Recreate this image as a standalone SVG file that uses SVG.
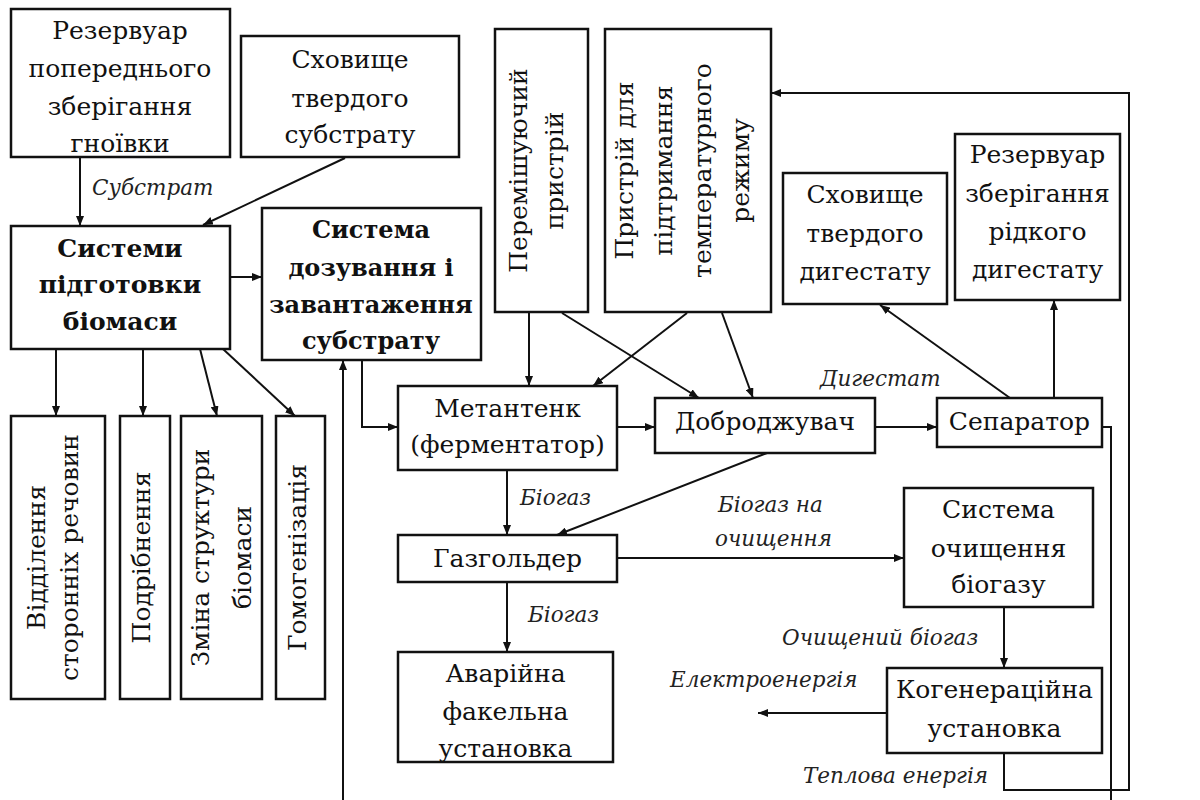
<svg xmlns="http://www.w3.org/2000/svg" width="1200" height="800" viewBox="0 0 1200 800">
<defs>
<marker id="ah" viewBox="0 0 10 8" refX="10" refY="4" markerWidth="10" markerHeight="8" markerUnits="userSpaceOnUse" orient="auto">
<path d="M0,0 L10,4 L0,8 Z" fill="#111"/>
</marker>
<style>
rect{fill:#fff;stroke:#111;stroke-width:2.5}
.t{font-size:25px;fill:#111;text-anchor:middle}
.b{font-size:25px;font-weight:bold;fill:#111;text-anchor:middle}
.b2{font-size:24px;font-weight:bold;fill:#111;text-anchor:middle}
.l{font-size:21.5px;font-style:italic;fill:#222}
.c line,.c path{stroke:#111;stroke-width:2;fill:none}
.a{marker-end:url(#ah)}
</style>
</defs>
<rect x="0" y="0" width="1200" height="800" style="fill:#fff;stroke:none"/>
<g font-family="DejaVu Serif, serif">
<g id="n1"><rect x="11" y="9" width="219" height="148"/>
<text class="t" x="120" y="39">Резервуар</text><text class="t" x="120" y="77">попереднього</text><text class="t" x="120" y="115">зберігання</text><text class="t" x="120" y="152">гноївки</text></g>

<g id="n2"><rect x="241" y="36" width="218" height="121"/>
<text class="t" x="350" y="68">Сховище</text><text class="t" x="350" y="107">твердого</text><text class="t" x="350" y="143">субстрату</text></g>

<g id="n3"><rect x="11" y="226" width="219" height="123"/>
<text class="b" x="120" y="257">Системи</text><text class="b" x="120" y="293">підготовки</text><text class="b" x="120" y="330">біомаси</text></g>

<g id="n4"><rect x="262" y="208" width="219" height="152"/>
<text class="b2" x="371" y="238">Система</text><text class="b2" x="371" y="276">дозування і</text><text class="b2" x="371" y="313">завантаження</text><text class="b2" x="371" y="349">субстрату</text></g>

<g id="n5"><rect x="495" y="29" width="93" height="283"/>
<g transform="translate(541.5,170.5) rotate(-90)"><text class="t" x="0" y="-15">Перемішуючий</text><text class="t" x="0" y="21">пристрій</text></g></g>

<g id="n6"><rect x="605" y="29" width="166" height="283"/>
<g transform="translate(688,170.5) rotate(-90)"><text class="t" x="0" y="-55">Пристрій для</text><text class="t" x="0" y="-16">підтримання</text><text class="t" x="0" y="23">температурного</text><text class="t" x="0" y="61">режиму</text></g></g>

<g id="n7"><rect x="783" y="173" width="164" height="131"/>
<text class="t" x="865" y="203">Сховище</text><text class="t" x="865" y="242">твердого</text><text class="t" x="865" y="280">дигестату</text></g>

<g id="n8"><rect x="955" y="134" width="165" height="166"/>
<text class="t" x="1037.5" y="163">Резервуар</text><text class="t" x="1037.5" y="202">зберігання</text><text class="t" x="1037.5" y="240">рідкого</text><text class="t" x="1037.5" y="278">дигестату</text></g>

<g id="n9"><rect x="398" y="386" width="219" height="84"/>
<text class="t" x="507.5" y="417">Метантенк</text><text class="t" x="507.5" y="453">(ферментатор)</text></g>

<g id="n10"><rect x="655" y="398" width="220" height="55"/>
<text class="t" x="765" y="430">Доброджувач</text></g>

<g id="n11"><rect x="937" y="398" width="165" height="49"/>
<text class="t" x="1019.5" y="430">Сепаратор</text></g>

<g id="n12"><rect x="398" y="535" width="219" height="47"/>
<text class="t" x="507.5" y="567">Газгольдер</text></g>

<g id="n13"><rect x="398" y="652" width="215" height="110"/>
<text class="t" x="505.5" y="682">Аварійна</text><text class="t" x="505.5" y="720">факельна</text><text class="t" x="505.5" y="757">установка</text></g>

<g id="n14"><rect x="904" y="488" width="189" height="119"/>
<text class="t" x="998.5" y="518">Система</text><text class="t" x="998.5" y="557">очищення</text><text class="t" x="998.5" y="593">біогазу</text></g>

<g id="n15"><rect x="887" y="668" width="215" height="85"/>
<text class="t" x="994.5" y="698">Когенераційна</text><text class="t" x="994.5" y="737">установка</text></g>

<g id="n16"><rect x="11" y="416" width="94" height="283"/>
<g transform="translate(58,557.5) rotate(-90)"><text class="t" x="0" y="-13">Відділення</text><text class="t" x="0" y="20">сторонніх речовин</text></g></g>

<g id="n17"><rect x="120" y="416" width="50" height="283"/>
<g transform="translate(145,557.5) rotate(-90)"><text class="t" x="0" y="5">Подрібнення</text></g></g>

<g id="n18"><rect x="181" y="416" width="81" height="283"/>
<g transform="translate(221.5,557.5) rotate(-90)"><text class="t" x="0" y="-13">Зміна структури</text><text class="t" x="0" y="29">біомаси</text></g></g>

<g id="n19"><rect x="276" y="416" width="49" height="283"/>
<g transform="translate(300.5,557.5) rotate(-90)"><text class="t" x="0" y="5">Гомогенізація</text></g></g>

<g id="connectors" class="c">
<line class="a" x1="80" y1="157" x2="80" y2="226"/>
<line class="a" x1="345" y1="158" x2="203" y2="225"/>
<line class="a" x1="230" y1="277" x2="262" y2="277"/>
<line class="a" x1="56" y1="349" x2="56" y2="416"/>
<line class="a" x1="143" y1="349" x2="143" y2="416"/>
<line class="a" x1="200" y1="349" x2="217" y2="416"/>
<line class="a" x1="223" y1="349" x2="295" y2="416"/>
<path class="a" d="M362,360 V427 H398"/>
<line class="a" x1="343" y1="800" x2="343" y2="360"/>
<line class="a" x1="529" y1="312" x2="529" y2="386"/>
<line class="a" x1="562" y1="313" x2="699" y2="398"/>
<line class="a" x1="687" y1="313" x2="593" y2="386"/>
<line class="a" x1="722" y1="313" x2="753" y2="398"/>
<line class="a" x1="617" y1="427" x2="655" y2="427"/>
<line class="a" x1="875" y1="427" x2="937" y2="427"/>
<line class="a" x1="1010" y1="398" x2="880" y2="305"/>
<line class="a" x1="1054" y1="398" x2="1054" y2="300"/>
<path d="M1102,427 H1111 V800"/>
<line class="a" x1="507" y1="470" x2="507" y2="535"/>
<line class="a" x1="767" y1="453" x2="557" y2="535"/>
<line class="a" x1="507" y1="582" x2="507" y2="652"/>
<line class="a" x1="617" y1="558" x2="904" y2="558"/>
<line class="a" x1="1004" y1="607" x2="1004" y2="668"/>
<line class="a" x1="887" y1="713" x2="758" y2="713"/>
<path class="a" d="M1004,753 V790 H1129 V93 H771"/>
</g>

<g id="labels">
<text class="l" x="92" y="195">Субстрат</text>
<text class="l" x="820" y="386">Дигестат</text>
<text class="l" x="520" y="505">Біогаз</text>
<text class="l" x="718" y="512">Біогаз на</text>
<text class="l" x="715" y="546">очищення</text>
<text class="l" x="528" y="622">Біогаз</text>
<text class="l" x="782" y="645">Очищений біогаз</text>
<text class="l" x="670" y="687">Електроенергія</text>
<text class="l" x="803" y="783">Теплова енергія</text>
</g>
</g>
</svg>
